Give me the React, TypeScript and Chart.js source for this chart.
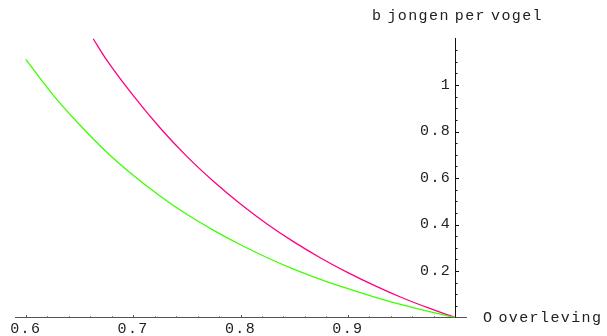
import React, { useEffect, useRef } from 'react';
import { Chart, registerables } from 'chart.js';

Chart.register(...registerables);

// survival (O overleving) values where the curves were read
const survivalGreen = [0.6, 0.625, 0.65, 0.675, 0.7, 0.725, 0.75, 0.775, 0.8, 0.825, 0.85, 0.875, 0.9, 0.925, 0.95, 0.975, 1.0];
const youngGreen = [1.11, 0.96, 0.83, 0.713, 0.612, 0.523, 0.444, 0.375, 0.313, 0.257, 0.207, 0.163, 0.124, 0.088, 0.055, 0.026, 0];

const survivalPink = [0.6627, 0.675, 0.7, 0.725, 0.75, 0.775, 0.8, 0.825, 0.85, 0.875, 0.9, 0.925, 0.95, 0.975, 1.0];
const youngPink = [1.2, 1.11, 0.955, 0.816, 0.693, 0.585, 0.488, 0.401, 0.324, 0.255, 0.193, 0.137, 0.086, 0.041, 0];

const xTickValues = [0.6, 0.7, 0.8, 0.9];
const yTickValues = [0.2, 0.4, 0.6, 0.8, 1];

const xAxisTitle = 'O overleving';
const yAxisTitle = 'b jongen per vogel';

const GREEN = 'rgb(60,255,0)';
const PINK = 'rgb(255,0,130)';
const FONT = '"Liberation Mono", "DejaVu Sans Mono", monospace';
const TEXT = '#222';
const LETTER = '1.4px';

const fmt = (v: number) => String(Math.round(v * 10) / 10);

const axisDecor = {
  id: 'axisDecor',
  beforeDraw(chart: any) {
    const ctx = chart.ctx;
    ctx.letterSpacing = LETTER;
    const ys = chart.scales.y;
    const items = ys.getLabelItems();
    if (!items._shifted) {
      items.forEach((it: any) => { it.options.translation[0] -= 4; });
      items._shifted = true;
    }
  },
  afterDraw(chart: any) {
    const ctx = chart.ctx;
    const xs = chart.scales.x;
    const ys = chart.scales.y;
    const y0 = ys.getPixelForValue(0);
    const x1 = xs.getPixelForValue(1);
    ctx.save();
    ctx.strokeStyle = '#555';
    ctx.lineWidth = 1;
    ctx.beginPath();
    for (let i = 30; i < 50; i++) {
      const px = Math.round(xs.getPixelForValue(i / 50)) + 0.5;
      const len = i % 5 === 0 ? 3 : 1.7;
      ctx.moveTo(px, Math.round(y0));
      ctx.lineTo(px, Math.round(y0) - len);
    }
    ctx.stroke();
    ctx.strokeStyle = '#111';
    ctx.beginPath();
    for (let i = 1; i <= 23; i++) {
      const py = Math.round(ys.getPixelForValue(i * 0.05)) + 0.5;
      const len = i % 4 === 0 ? 4 : 2.5;
      ctx.moveTo(Math.round(x1), py);
      ctx.lineTo(Math.round(x1) + len, py);
    }
    ctx.stroke();

    ctx.letterSpacing = LETTER;
    (ctx as any).wordSpacing = '-5.4px';
    ctx.font = `15px ${FONT}`;
    ctx.fillStyle = TEXT;
    ctx.textAlign = 'left';
    ctx.textBaseline = 'alphabetic';
    ctx.fillText(yAxisTitle, 372, 20);
    ctx.fillText(xAxisTitle, 483, 322);
    (ctx as any).wordSpacing = '0px';
    ctx.restore();
  },
};

export default function App() {
  const ref = useRef<HTMLCanvasElement | null>(null);
  useEffect(() => {
    if (!ref.current) return;
    const chart = new Chart(ref.current, {
      type: 'line',
      data: {
        datasets: [
          {
            label: 'groen',
            data: survivalGreen.map((s, i) => ({ x: s, y: youngGreen[i] })),
            borderColor: GREEN,
            borderWidth: 1.3,
            pointRadius: 0,
            fill: false,
            cubicInterpolationMode: 'monotone',
          },
          {
            label: 'roze',
            data: survivalPink.map((s, i) => ({ x: s, y: youngPink[i] })),
            borderColor: PINK,
            borderWidth: 1.3,
            pointRadius: 0,
            fill: false,
            cubicInterpolationMode: 'monotone',
          },
        ],
      },
      options: {
        responsive: false,
        animation: false,
        events: [],
        layout: { padding: { left: 15, right: 141, top: 38.5, bottom: 18.5 } },
        plugins: { legend: { display: false }, tooltip: { enabled: false }, title: { display: false } },
        scales: {
          x: {
            type: 'linear',
            min: 0.59,
            max: 1.01,
            position: { y: 0 } as any,
            grid: { display: false, drawTicks: false },
            border: { display: true, color: '#555', width: 1 },
            afterBuildTicks: (s: any) => { s.ticks = xTickValues.map((v) => ({ value: v })); },
            ticks: {
              font: { family: FONT, size: 15 },
              color: TEXT,
              padding: 3,
              maxRotation: 0,
              autoSkip: false,
              callback: (v: any) => fmt(Number(v)),
            },
          },
          y: {
            type: 'linear',
            min: 0,
            max: 1.2,
            position: { x: 1 } as any,
            grid: { display: false, drawTicks: false },
            border: { display: true, color: '#111', width: 1 },
            afterBuildTicks: (s: any) => { s.ticks = yTickValues.map((v) => ({ value: v })); },
            ticks: {
              font: { family: FONT, size: 15 },
              color: TEXT,
              padding: 0,
              autoSkip: false,
              callback: (v: any) => fmt(Number(v)),
            },
          },
        },
      },
      plugins: [axisDecor],
    });
    return () => chart.destroy();
  }, []);
  return (
    <div style={{ position: 'fixed', left: 0, top: 0, width: 607, height: 336, background: '#fff' }}>
      <canvas ref={ref} width={607} height={336} style={{ display: 'block', width: 607, height: 336 }} />
    </div>
  );
}
